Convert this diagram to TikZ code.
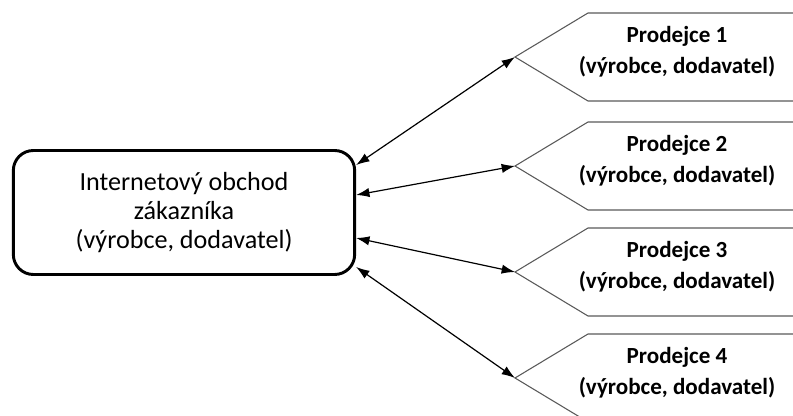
\documentclass[tikz,border=0pt]{standalone}
\usepackage{fontspec}
\setmainfont{Carlito}
\usetikzlibrary{arrows.meta,calc}
\begin{document}
\begin{tikzpicture}[x=0.75pt,y=-0.75pt,
  seller/.style={draw=black!65, line width=0.8pt},
  link/.style={{Latex[length=10pt,width=7pt]}-{Latex[length=10pt,width=7pt]}, line width=0.9pt},
  shopbox/.style={draw, line width=2.2pt, rounded corners=15pt, inner sep=0pt,
    minimum width=256pt, minimum height=93pt, align=center,
    font=\fontsize{19.6}{21.5}\selectfont},
  sellertext/.style={font=\bfseries\fontsize{17.3}{23}\selectfont, align=center}]
\useasboundingbox (0,0) rectangle (793,416);
\clip (0,0) rectangle (793,416);
\node[shopbox] (box) at (184,212.5) {Internetový obchod\\zákazníka\\(výrobce, dodavatel)};
\foreach \i/\c in {1/57,2/166,3/272,4/378} {
  \coordinate (t\i) at (515,\c);
  \draw[seller] ($(t\i)+(290,-44)$) -- ($(t\i)+(73,-44)$) -- (t\i) -- ($(t\i)+(73,44)$) -- ($(t\i)+(290,44)$);
  \node[sellertext] (p\i) at ($(t\i)+(162,-5)$) {Prodejce \i\\(výrobce, dodavatel)};
}
\draw[link] ($(box.east)+(0,-47.5)$) -- (t1);
\draw[link] ($(box.east)+(0,-17.5)$) -- (t2);
\draw[link] ($(box.east)+(0,25.5)$) -- (t3);
\draw[link] ($(box.east)+(0,54.5)$) -- (t4);
\end{tikzpicture}
\end{document}
